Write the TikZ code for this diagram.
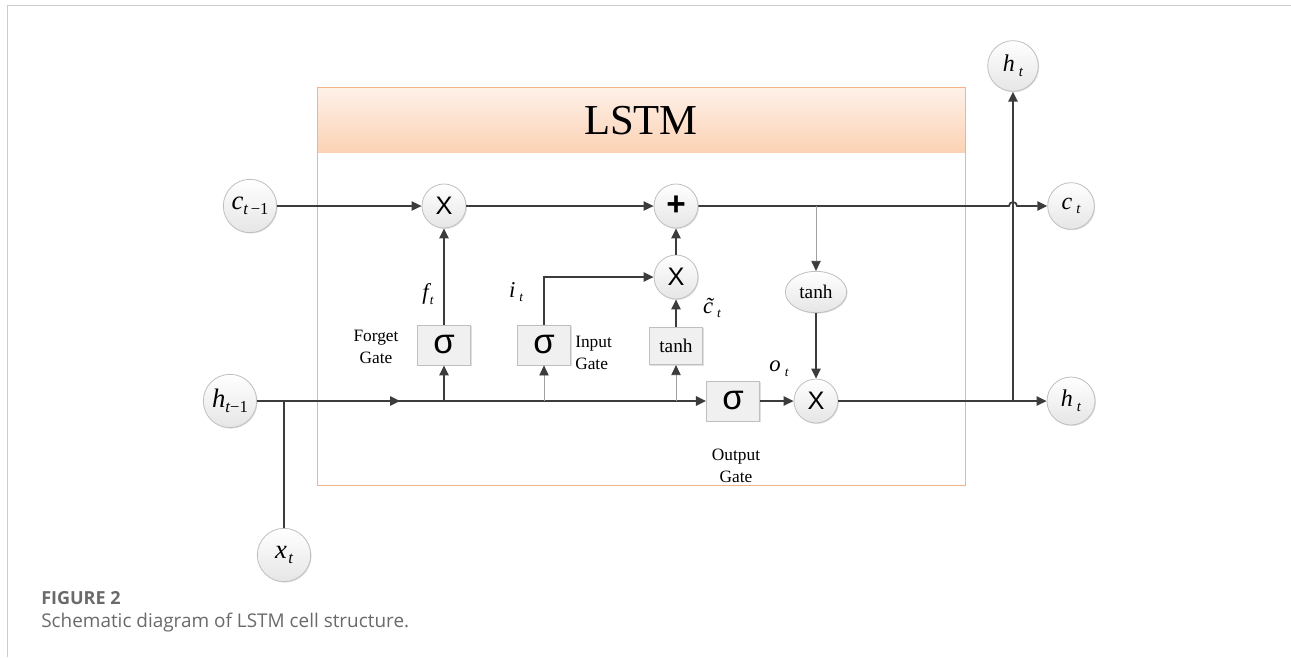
\documentclass[tikz,border=0pt]{standalone}
\usepackage{fontspec}
\setmainfont{Liberation Serif}
\newfontfamily\sansf{Liberation Sans}
\newfontfamily\capf{Open Sans}
\usetikzlibrary{arrows.meta,shapes.geometric,shadows}
\definecolor{ln}{HTML}{3C3C3C}
\definecolor{thinln}{HTML}{A0A0A0}
\definecolor{hdtop}{HTML}{FEF1E9}
\definecolor{hdbot}{HTML}{FCD2B5}
\definecolor{hdborder}{HTML}{F2B48C}
\definecolor{capgray}{HTML}{6A6A6A}
\newcommand\vlab[4]{{\fontsize{#3}{#3}\selectfont\itshape #1}\raisebox{-0.35em}{\fontsize{#4}{#4}\selectfont #2}}
\begin{document}
\begin{tikzpicture}[x=0.75pt,y=-0.75pt,
  circ/.style={circle, draw=gray!50, line width=0.6pt, inner sep=0pt,
    top color=white, bottom color=gray!20,
    drop shadow={shadow xshift=0.7pt,shadow yshift=-0.7pt,opacity=0.25,fill=gray}},
  opc/.style={circ, minimum size=33pt, font=\sansf\fontsize{19}{19}\selectfont},
  inc/.style={circ, minimum size=40pt},
  gbox/.style={rectangle, draw=gray!50, line width=0.6pt, fill=gray!12, minimum width=40pt,
    minimum height=30pt, inner sep=0pt,
    drop shadow={shadow xshift=0.7pt,shadow yshift=-0.7pt,opacity=0.25,fill=gray}},
  sig/.style={gbox, font=\sansf\fontsize{26}{26}\selectfont},
  arr/.style={draw=ln, line width=1.3pt, -{Triangle[length=7.5pt,width=7pt]}},
  thinarr/.style={draw=thinln, line width=0.6pt, -{Triangle[length=7.5pt,width=7pt,color=ln]}},
  plain/.style={draw=ln, line width=1.3pt},
  gl/.style={font=\fontsize{13}{16.5}\selectfont, inner sep=0pt, align=center},
  lbl/.style={inner sep=0pt}
]
\useasboundingbox (0,0) rectangle (1291,657);
% page frame
\draw[gray!40, line width=1.2pt] (1291,5.5) -- (7.5,5.5) -- (7.5,657);
% LSTM box
\shade[top color=hdtop, bottom color=hdbot] (317,87) rectangle (965,152);
\draw[hdborder, line width=0.7pt] (317,87) rectangle (965,485);
\node[font=\fontsize{32}{32}\selectfont] (title) at (641,121) {LSTM};

% inputs / outputs
\node[inc] (cprev) at (250,206) {\vlab{c}{\itshape t\,\upshape −1}{20}{12.5}};
\node[inc] (hprev) at (230,401) {\vlab{h}{\itshape t\upshape −1}{20}{12.5}};
\node[inc] (xt) at (284,555) {\vlab{x}{\kern1pt\itshape t}{20}{12.5}};
\node[circ, minimum size=35pt] (ct) at (1071,206) {\vlab{c}{\kern3pt\itshape t}{18}{11}};
\node[circ, minimum size=36pt] (ht) at (1071,401) {\vlab{h}{\kern3pt\itshape t}{18}{11}};
\node[circ, minimum size=38pt] (htop) at (1013,66) {\vlab{h}{\kern3pt\itshape t}{18}{11}};

% operators
\node[opc] (mf) at (444,206) {X};
\node[opc, font=\sansf\bfseries\fontsize{25}{25}\selectfont] (add) at (676,206) {+};
\node[opc] (mi) at (676,277) {X};
\node[opc] (mo) at (816,401) {X};

% gates
\node[sig] (sf) at (444,345) {σ};
\node[sig] (si) at (544,345) {σ};
\node[gbox, minimum height=28pt, font=\fontsize{14.5}{14.5}\selectfont] (tb) at (676,346) {tanh};
\node[sig] (so) at (733,401) {σ};
\node[ellipse, draw=gray!50, line width=0.6pt, inner sep=0pt, minimum width=46pt, minimum height=31pt,
  top color=white, bottom color=gray!20, font=\fontsize{14.5}{14.5}\selectfont,
  drop shadow={shadow xshift=0.7pt,shadow yshift=-0.7pt,opacity=0.25,fill=gray}] (te) at (816,292) {tanh};

% labels
\node[lbl] (ft) at (428,294) {\vlab{f}{\kern1pt\itshape t}{17}{10}};
\node[lbl] (it) at (516,292) {\vlab{i}{\kern3pt\itshape t}{17}{10}};
\node[lbl] (ctil) at (712,308) {\vlab{\~{c}}{\kern3pt\itshape t}{17}{10}};
\node[lbl] (ot) at (779,369) {\vlab{o}{\kern3pt\itshape t}{17}{10}};
\node[gl] (fg) at (376,347) {Forget\\Gate};
\node[gl, anchor=west, align=left] (ig) at (575,353) {Input\\Gate};
\node[gl] (og) at (736,466) {Output\\Gate};

% coordinates
\coordinate (jx) at (284,401);
\coordinate (hm) at (400,401);
\coordinate (bf) at (444,401);
\coordinate (bi) at (544,401);
\coordinate (bt) at (676,401);
\coordinate (cb) at (816,206);
\coordinate (jh) at (1013,401);
\coordinate (hopa) at (1009,206);

% connectors
\draw[arr] (cprev) -- (mf);
\draw[arr] (mf) -- (add);
\draw[arr] (add.east) -- (hopa) arc[start angle=180,end angle=0,radius=3pt] -- (ct.west);
\draw[arr] (sf) -- (mf);
\draw[arr] (si.north) |- (mi.west);
\draw[arr] (tb) -- (mi);
\draw[arr] (mi) -- (add);
\draw[thinarr] (cb) -- (te.north);
\draw[arr] (te) -- (mo);
\draw[arr] (hprev.east) -- (so.west);
\draw[arr] (hprev.east) -- (hm);
\draw[plain] (xt) -- (jx);
\draw[arr] (bf) -- (sf);
\draw[thinarr] (bi) -- (si);
\draw[thinarr] (bt) -- (tb);
\draw[arr] (so) -- (mo);
\draw[arr] (mo) -- (ht);
\draw[arr] (jh) -- (htop);

% caption
\node[anchor=base west, inner sep=0pt, text=capgray, font=\capf\bfseries\fontsize{13.5}{13.5}\selectfont] (fig) at (41,604) {FIGURE 2};
\node[anchor=base west, inner sep=0pt, text=capgray, font=\capf\fontsize{14.2}{14.2}\selectfont] (cap) at (41,627) {Schematic diagram of LSTM cell structure.};
\end{tikzpicture}
\end{document}
